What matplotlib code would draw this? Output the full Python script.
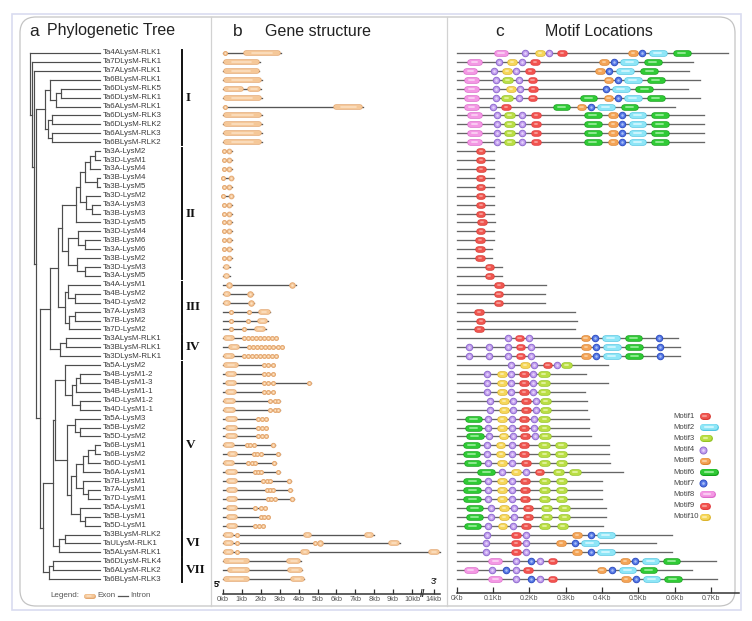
import matplotlib
matplotlib.use("Agg")
import matplotlib.pyplot as plt
from matplotlib.patches import FancyBboxPatch

plt.rcParams['font.family'] = ['Liberation Sans', 'DejaVu Sans']

# ---------------- data ----------------
# tree: newick with internal node depths (horizontal position of each split)
clade_I = ("((Ta6BLysM-RLK1,((Ta6DLysM-RLK5,Ta6DLysM-RLK1)61,Ta6ALysM-RLK1)56)50,"
           "((Ta6DLysM-RLK3,Ta6DLysM-RLK2)52,(Ta6ALysM-RLK3,Ta6BLysM-RLK2)52)48)45")
clade_II = ("((((((Ta3A-LysM2,Ta3D-LysM1)95,Ta3A-LysM4)90,(Ta3B-LysM4,Ta3B-LysM5)97)85,"
            "(Ta3D-LysM2,(Ta3A-LysM3,Ta3B-LysM3)92)86)80,Ta3D-LysM5)76,"
            "((Ta3D-LysM4,(Ta3B-LysM6,Ta3A-LysM6)85)78,(Ta3B-LysM2,(Ta3D-LysM3,Ta3A-LysM5)85)77)68)62")
clade_III = "((Ta4A-LysM1,(Ta4B-LysM2,Ta4D-LysM2)75)68,((Ta7A-LysM3,Ta7B-LysM2)75,Ta7D-LysM2)69)65"
clade_IV = "((Ta3ALysM-RLK1,Ta3BLysM-RLK1)66,Ta3DLysM-RLK1)60"
clade_V = ("((Ta5A-LysM2,(((Ta4B-LysM1-2,Ta4B-LysM1-3)80,Ta4B-LysM1-1)76,(Ta4D-LysM1-2,Ta4D-LysM1-1)80)72)65,"
           "((Ta5A-LysM3,(Ta5B-LysM2,Ta5D-LysM2)80)75,"
           "(((((Ta6B-LysM1,Ta6B-LysM2)95,Ta6D-LysM1)88,Ta6A-LysM1)83,(Ta7B-LysM1,(Ta7A-LysM1,Ta7D-LysM1)88)83)76,"
           "(Ta5A-LysM1,(Ta5B-LysM1,Ta5D-LysM1)85)80)71)67)55")
clade_VI = "((Ta3BLysM-RLK2,TaULysM-RLK1)65,Ta5ALysM-RLK1)59"
clade_VII = "((Ta6DLysM-RLK4,Ta6ALysM-RLK2)53,Ta6BLysM-RLK3)49"
tree_newick = ("(Ta4ALysM-RLK1,(Ta7DLysM-RLK1,(Ta7ALysM-RLK1,(" + clade_I + ",("
               "((" + clade_II + "," + clade_III + ")58," + clade_IV + ")50,"
               "((" + clade_V + "," + clade_VI + ")53," + clade_VII + ")43)40)36)34)32)30")

clade_names = ["I", "II", "III", "IV", "V", "VI", "VII"]
clade_rows = [(0, 10), (11, 25), (26, 31), (32, 34), (35, 53), (54, 56), (57, 59)]

# gene structure: exons (start kb, end kb) per gene, in tree order
exons = [
    [(0.05, 0.2), (1.07, 3.07)],
    [(0, 1.96)],
    [(0, 1.92)],
    [(0, 2.05)],
    [(0, 1.1), (1.27, 2.02)],
    [(0, 2.05)],
    [(0.05, 0.2), (5.84, 7.42)],
    [(0, 2.07)],
    [(0, 2.07)],
    [(0, 2.07)],
    [(0, 2.07)],
    [(0, 0.1), (0.2, 0.45)],
    [(0, 0.1), (0.2, 0.45)],
    [(0, 0.1), (0.2, 0.45)],
    [(0, 0.05), (0.3, 0.55)],
    [(0, 0.1), (0.2, 0.45)],
    [(0, 0.05), (0.3, 0.55)],
    [(0, 0.1), (0.2, 0.45)],
    [(0, 0.1), (0.2, 0.45)],
    [(0, 0.1), (0.2, 0.45)],
    [(0, 0.1), (0.2, 0.45)],
    [(0, 0.1), (0.2, 0.45)],
    [(0, 0.1), (0.2, 0.45)],
    [(0, 0.1), (0.2, 0.45)],
    [(0, 0.38)],
    [(0, 0.38)],
    [(0.15, 0.5), (3.5, 3.85)],
    [(0, 0.4), (1.3, 1.6)],
    [(0, 0.4), (1.3, 1.65)],
    [(0.3, 0.5), (1.3, 1.45), (1.85, 2.5)],
    [(0.3, 0.5), (1.25, 1.4), (1.8, 2.38)],
    [(0.3, 0.5), (1.05, 1.2), (1.64, 2.26)],
    [(0, 0.6), (1.04, 1.2), (1.25, 1.41), (1.46, 1.62), (1.67, 1.83), (1.88, 2.04),
     (2.09, 2.25), (2.3, 2.46), (2.51, 2.67), (2.72, 2.88)],
    [(0.3, 0.9), (1.27, 1.43), (1.49, 1.65), (1.71, 1.87), (1.93, 2.09), (2.15, 2.31),
     (2.37, 2.53), (2.59, 2.75), (2.81, 2.97), (3.02, 3.18)],
    [(0, 0.6), (1.04, 1.2), (1.25, 1.41), (1.46, 1.62), (1.67, 1.83), (1.88, 2.04),
     (2.09, 2.25), (2.3, 2.46), (2.51, 2.67), (2.72, 2.88)],
    [(0, 0.82), (2.1, 2.25), (2.33, 2.48), (2.56, 2.71)],
    [(0.1, 0.72), (2.1, 2.25), (2.33, 2.48), (2.56, 2.71)],
    [(0.1, 0.72), (2.1, 2.25), (2.33, 2.48), (2.56, 2.71), (4.5, 4.65)],
    [(0.1, 0.72), (2.1, 2.25), (2.33, 2.48), (2.56, 2.71)],
    [(0, 0.7), (2.42, 2.57), (2.65, 2.8), (2.86, 3.01)],
    [(0, 0.7), (2.42, 2.57), (2.65, 2.8), (2.86, 3.01)],
    [(0.1, 0.8), (1.8, 1.94), (1.98, 2.12), (2.19, 2.33)],
    [(0.1, 0.8), (1.8, 1.94), (1.98, 2.12), (2.19, 2.33)],
    [(0.1, 0.8), (1.8, 1.94), (1.98, 2.12), (2.19, 2.33)],
    [(0, 0.62), (1.22, 1.35), (1.38, 1.5), (1.57, 1.7), (2.52, 2.75)],
    [(0.2, 0.8), (1.57, 1.7), (1.74, 1.87), (1.92, 2.05), (2.79, 3.0)],
    [(0, 0.62), (1.28, 1.41), (1.46, 1.59), (1.64, 1.77), (2.58, 2.8)],
    [(0.1, 0.8), (1.64, 1.77), (1.8, 1.93), (1.96, 2.09), (2.79, 3.0)],
    [(0.15, 0.8), (2.07, 2.2), (2.24, 2.37), (2.42, 2.55), (3.37, 3.6)],
    [(0.15, 0.8), (2.24, 2.37), (2.42, 2.55), (2.6, 2.73), (3.45, 3.65)],
    [(0.15, 0.8), (2.3, 2.43), (2.48, 2.61), (2.66, 2.79), (3.55, 3.78)],
    [(0.15, 0.8), (1.64, 1.77), (1.92, 2.05), (2.14, 2.27)],
    [(0.15, 0.8), (1.92, 2.05), (2.1, 2.23), (2.3, 2.43)],
    [(0.15, 0.8), (1.64, 1.77), (1.84, 1.97), (2.04, 2.17)],
    [(0, 0.55), (0.68, 0.76), (4.25, 4.7), (7.45, 8.0)],
    [(0, 0.55), (0.68, 0.76), (4.83, 4.91), (5.0, 5.3), (8.75, 9.35)],
    [(0, 0.55), (0.68, 0.76), (4.1, 4.6), (13.7, 14.3)],
    [(0, 1.4), (3.37, 4.13)],
    [(0.2, 1.43), (3.42, 4.2)],
    [(0, 1.4), (3.55, 4.3)],
]
kb_ticks = [0, 1, 2, 3, 4, 5, 6, 7, 8, 9, 10, 14]
kb_break = 10.6      # axis is cut between 10kb and 14kb
kb_cut = 2.84        # amount of the axis removed by the cut

# motif locations: protein length (Kb on the axis) and (motif, centre) per gene
protein_len = [0.748, 0.652, 0.641, 0.67, 0.638, 0.67, 0.601, 0.68, 0.68, 0.68, 0.68,
               0.102, 0.102, 0.102, 0.102, 0.102, 0.102, 0.102, 0.102, 0.106, 0.102, 0.102,
               0.098, 0.098, 0.124, 0.124, 0.246, 0.243, 0.243, 0.326, 0.332, 0.327,
               0.611, 0.615, 0.615, 0.416, 0.355, 0.416, 0.354, 0.358, 0.358,
               0.365, 0.365, 0.369, 0.42, 0.42, 0.422, 0.459, 0.4, 0.4, 0.4,
               0.41, 0.41, 0.404, 0.592, 0.548, 0.592, 0.713, 0.647, 0.716]
rlk_a = [(8, .049), (4, .112), (3, .145), (4, .179), (9, .218), (6, .375), (5, .43), (7, .456), (2, .498), (6, .56)]
lysm_v = [(6, .043), (4, .087), (10, .124), (4, .153), (1, .188), (3, .242), (3, .289)]
motif_hits = [
    [(8, .122), (4, .188), (10, .229), (4, .253), (9, .29), (5, .485), (7, .511), (2, .554), (6, .62)],
    [(8, .049), (4, .116), (10, .152), (4, .179), (9, .216), (5, .406), (7, .432), (2, .475), (6, .54)],
    [(8, .037), (4, .102), (10, .139), (4, .164), (9, .202), (5, .395), (7, .42), (2, .464), (6, .53)],
    [(8, .041), (4, .107), (3, .14), (4, .172), (9, .209), (5, .418), (7, .444), (2, .485), (6, .549)],
    [(8, .041), (4, .107), (10, .149), (4, .175), (9, .211), (7, .411), (2, .452), (6, .516)],
    [(8, .041), (4, .107), (3, .138), (4, .172), (9, .209), (6, .363), (5, .418), (7, .444), (2, .485), (6, .549)],
    [(8, .041), (4, .099), (9, .136), (6, .289), (5, .344), (7, .37), (2, .411), (6, .476)],
    rlk_a, rlk_a, rlk_a, rlk_a,
    [(1, .066)], [(1, .066)], [(1, .067)], [(1, .066)], [(1, .066)], [(1, .066)], [(1, .066)],
    [(1, .066)], [(1, .069)], [(1, .066)], [(1, .064)], [(1, .064)], [(1, .064)],
    [(1, .09)], [(1, .09)],
    [(1, .117)], [(1, .115)], [(1, .115)],
    [(1, .062)], [(1, .066)], [(1, .062)],
    [(4, .14), (9, .173), (4, .2), (5, .355), (7, .381), (2, .425), (6, .487), (7, .558)],
    [(4, .034), (4, .089), (4, .142), (9, .176), (4, .204), (5, .356), (7, .384), (2, .427), (6, .489), (7, .56)],
    [(4, .034), (4, .089), (4, .142), (9, .176), (4, .204), (5, .356), (7, .384), (2, .427), (6, .489), (7, .56)],
    [(4, .15), (10, .188), (4, .214), (1, .25), (4, .276), (3, .303)],
    [(4, .084), (10, .124), (4, .15), (1, .185), (4, .211), (3, .24)],
    [(4, .084), (10, .124), (4, .15), (1, .185), (4, .211), (3, .24)],
    [(4, .084), (10, .124), (4, .15), (1, .185), (4, .211), (3, .24)],
    [(4, .092), (10, .13), (4, .156), (1, .191), (4, .218), (3, .245)],
    [(4, .092), (10, .13), (4, .156), (1, .191), (4, .218), (3, .245)],
    [(6, .046), (4, .085), (10, .124), (4, .152), (1, .185), (4, .214), (3, .241)],
    [(6, .046), (4, .085), (10, .124), (4, .152), (1, .185), (4, .214), (3, .241)],
    [(6, .05), (4, .09), (10, .129), (4, .156), (1, .188), (4, .216), (3, .243)],
    [(6, .041), (4, .084), (10, .121), (4, .152), (1, .186), (3, .241), (3, .287)],
    [(6, .041), (4, .084), (10, .121), (4, .152), (1, .186), (3, .241), (3, .287)],
    [(6, .044), (4, .087), (10, .124), (4, .153), (1, .19), (3, .242), (3, .289)],
    [(6, .081), (4, .126), (10, .163), (4, .19), (1, .228), (3, .28), (3, .326)],
    lysm_v, lysm_v, lysm_v,
    [(6, .049), (4, .094), (10, .131), (4, .159), (1, .196), (3, .248), (3, .296)],
    [(6, .049), (4, .094), (10, .131), (4, .159), (1, .196), (3, .248), (3, .296)],
    [(6, .044), (4, .087), (10, .126), (4, .154), (1, .19), (3, .242), (3, .291)],
    [(4, .083), (9, .163), (4, .191), (5, .331), (7, .37), (2, .411)],
    [(4, .081), (9, .163), (4, .191), (5, .287), (7, .326), (2, .367)],
    [(4, .081), (9, .163), (4, .191), (5, .331), (7, .37), (2, .411)],
    [(8, .106), (4, .163), (7, .204), (4, .23), (9, .264), (5, .464), (7, .491), (2, .534), (6, .592)],
    [(8, .039), (4, .098), (7, .136), (4, .163), (9, .197), (5, .399), (7, .429), (2, .471), (6, .528)],
    [(8, .106), (4, .163), (7, .204), (4, .23), (9, .264), (5, .466), (7, .494), (2, .537), (6, .595)],
]
motif_width = {1: .028, 2: .05, 3: .033, 4: .019, 5: .028, 6: .05, 7: .022, 8: .041, 9: .028, 10: .028}
# (edge, face, highlight)
motif_cols = {
    1: ('#d83a34', '#ef5650', '#f8a29c'),
    2: ('#52c6e2', '#8ee6f7', '#d8f8ff'),
    3: ('#93c424', '#bade45', '#e6f6a6'),
    4: ('#8f6ccf', '#c29eee', '#e6d6fb'),
    5: ('#dc8430', '#f4a457', '#fbd2a4'),
    6: ('#15a01b', '#2fca35', '#9eef9f'),
    7: ('#2f4ec2', '#5679e6', '#abbff6'),
    8: ('#dc6acb', '#f498e4', '#fbd5f4'),
    9: ('#e23c40', '#f2534f', '#f9a5a0'),
    10: ('#dcb42c', '#f6d75a', '#fcefb2'),
}
exon_cols = ('#e4a872', '#f5c899', '#fde4c8')
motif_ticks = [0, 0.1, 0.2, 0.3, 0.4, 0.5, 0.6, 0.7]

# ---------------- layout ----------------
W, H = 752, 621
ROW0, ROWH = 53.0, 8.917          # pixel y of first gene row, row spacing
fig = plt.figure(figsize=(W / 100, H / 100), dpi=100)


def row_of(ypx):
    return (ypx - ROW0) / ROWH


def px_axes(x0, x1, y0, y1):
    ax = fig.add_axes([x0 / W, 1 - y1 / H, (x1 - x0) / W, (y1 - y0) / H])
    ax.set_ylim(row_of(y1), row_of(y0))
    ax.patch.set_alpha(0)
    return ax


def pill(ax, x0, x1, y, h, cols, z=3, minw=4.0):
    edge, face, hi = cols
    a0 = ax.transData.transform((x0, y))[0]
    a1 = ax.transData.transform((x1, y))[0]
    wpx = a1 - a0
    per = (x1 - x0) / wpx
    if wpx <= h * 1.3:
        d = min(h, max(wpx, minw))
        xc = (x0 + x1) / 2
        ax.plot([xc], [y], 'o', ms=d * 0.72, mfc=face, mec=edge, mew=0.7, zorder=z)
        ax.plot([xc], [y], 'o', ms=d * 0.72 * 0.38, mfc=hi, mec='none', zorder=z + 0.1)
        return
    r = h / 2 * per
    a, b = x0 + r, x1 - r
    ax.plot([a, b], [y, y], color=edge, lw=h * 0.72, solid_capstyle='round', zorder=z)
    ax.plot([a, b], [y, y], color=face, lw=(h - 1.4) * 0.72, solid_capstyle='round', zorder=z + 0.1)
    m = (b - a) * 0.2
    ax.plot([a + m, b - m], [y, y], color=hi, lw=h * 0.3 * 0.72, solid_capstyle='round',
            alpha=0.85, zorder=z + 0.2)


# frames
bg = fig.add_axes([0, 0, 1, 1])
bg.set_xlim(0, W)
bg.set_ylim(H, 0)
bg.axis('off')
bg.add_patch(plt.Rectangle((12, 14), 729, 596, fill=False, ec='#d9dcf0', lw=1.2))
bg.add_patch(FancyBboxPatch((20, 17), 715, 589, boxstyle='round,pad=0,rounding_size=16',
                            fc='white', ec='#c4c4c4', lw=0.9))
bg.plot([211, 211], [17, 606], color='#d2d2d2', lw=0.9)
bg.plot([447, 447], [17, 606], color='#d2d2d2', lw=0.9)


def ftext(x, y, s, **kw):
    fig.text(x / W, 1 - y / H, s, **kw)


ftext(29, 35.5, 'a', fontsize=12.5, color='#222')
ftext(47, 35.5, 'Phylogenetic Tree', fontsize=11.5, color='#222')
ftext(233, 35.5, 'b', fontsize=12.5, color='#222')
ftext(265, 35.5, 'Gene structure', fontsize=11.5, color='#222')
ftext(495, 35.5, 'c', fontsize=12.5, color='#222')
ftext(545, 35.5, 'Motif Locations', fontsize=11.5, color='#222')

# ---------------- a: tree ----------------
axt = px_axes(20, 211, 40, 612)
axt.set_xlim(20, 211)
axt.axis('off')


def parse(s):
    pos = 0

    def node():
        nonlocal pos
        if s[pos] == '(':
            pos += 1
            kids = [node()]
            while s[pos] == ',':
                pos += 1
                kids.append(node())
            pos += 1
            j = pos
            while pos < len(s) and s[pos] not in ',()':
                pos += 1
            return (float(s[j:pos]), kids)
        j = pos
        while s[pos] not in ',()':
            pos += 1
        return s[j:pos]

    return node()


LEAF_X = 100
leaves = []
tcol = '#4d4d4d'


def draw(nd, px):
    if isinstance(nd, str):
        y = len(leaves)
        leaves.append(nd)
        axt.plot([px, LEAF_X], [y, y], color=tcol, lw=0.85)
        return y
    x, kids = nd
    ys = [draw(k, x) for k in kids]
    axt.plot([x, x], [ys[0], ys[-1]], color=tcol, lw=0.85)
    y = (ys[0] + ys[-1]) / 2
    if px is not None:
        axt.plot([px, x], [y, y], color=tcol, lw=0.85)
    return y


draw(parse(tree_newick), None)
for i, name in enumerate(leaves):
    axt.text(LEAF_X + 2.5, i, name, fontsize=5.7, color='#3c3c3c', va='center', ha='left')

for name, (s, e) in zip(clade_names, clade_rows):
    axt.plot([182, 182], [s - 0.36, e + 0.36], color='#111', lw=1.4)
    axt.text(186, (s + e) / 2, name, fontsize=9.5, fontweight='bold', va='center', ha='left',
             family=['Liberation Serif', 'DejaVu Serif'], color='#111')

ly = row_of(595.5)
axt.text(50, ly, 'Legend:', fontsize=5.8, color='#555', va='center')
pill(axt, 83, 95, ly, 5, exon_cols)
axt.text(97, ly, 'Exon', fontsize=5.8, color='#555', va='center')
axt.plot([118, 128], [ly, ly], color='#555', lw=0.9)
axt.text(130, ly, 'Intron', fontsize=5.8, color='#555', va='center')

# ---------------- b: gene structure ----------------
KB0, KBPX = 223.0, 18.9
axg = px_axes(211, 447, 40, 612)
axg.set_xlim((211 - KB0) / KBPX, (447 - KB0) / KBPX)


def bx(kb):
    return kb if kb < kb_break else kb - kb_cut


for i, ex in enumerate(exons):
    end = bx(max(e for _, e in ex))
    axg.plot([0, end], [i, i], color='#555', lw=0.95, zorder=2)
    for s, e in ex:
        pill(axg, bx(s), bx(e), i, 5.5, exon_cols)

axis_row = row_of(594)
for sp in ['top', 'left', 'right']:
    axg.spines[sp].set_visible(False)
axg.spines['bottom'].set_position(('data', axis_row))
axg.spines['bottom'].set_bounds(0, bx(14.3))
axg.spines['bottom'].set_color('#333')
axg.spines['bottom'].set_linewidth(1.1)
axg.set_yticks([])
axg.set_xticks([bx(t) for t in kb_ticks])
axg.set_xticklabels([f'{t}kb' for t in kb_ticks])
axg.tick_params(axis='x', direction='in', length=3.5, width=0.9, color='#333',
                labelsize=5.3, labelcolor='#555', pad=1.5)
axg.text(kb_break - 0.05, axis_row, '//', fontsize=7, ha='center', va='center',
         color='#333', fontweight='bold')
axg.text(-0.28, axis_row - 0.55, "5'", fontsize=6.5, fontweight='bold', ha='center', va='bottom')
axg.text(bx(14), axis_row - 0.9, "3'", fontsize=6.5, ha='center', va='bottom')

# ---------------- c: motif locations ----------------
K0, KPX = 456.7, 363.0
axm = px_axes(447, 735, 40, 612)
axm.set_xlim((447 - K0) / KPX, (735 - K0) / KPX)

for i, (ln, hits) in enumerate(zip(protein_len, motif_hits)):
    axm.plot([0, ln], [i, i], color='#666', lw=0.95, zorder=2)
    for m, c in hits:
        w = motif_width[m]
        pill(axm, c - w / 2, c + w / 2, i, 6.5, motif_cols[m], minw=6.5)

m_axis = row_of(593)
for sp in ['top', 'left', 'right']:
    axm.spines[sp].set_visible(False)
axm.spines['bottom'].set_position(('data', m_axis))
axm.spines['bottom'].set_bounds(0, max(protein_len) + 0.03)
axm.spines['bottom'].set_color('#333')
axm.spines['bottom'].set_linewidth(1.1)
axm.set_yticks([])
axm.set_xticks(motif_ticks)
axm.set_xticklabels([f'{t:g}Kb' for t in motif_ticks])
axm.tick_params(axis='x', direction='in', length=4, width=0.9, color='#333',
                labelsize=5.0, labelcolor='#555', pad=1.5)

# motif legend
lx_text = (673 - K0) / KPX
lx_sw = (699 - K0) / KPX
for k in range(1, 11):
    yy = row_of(416 + (k - 1) * 11.2)
    axm.text(lx_text, yy, f'Motif{k}', fontsize=5.6, color='#444', va='center', ha='left')
    pill(axm, lx_sw, lx_sw + motif_width[k] * 1.1, yy, 7, motif_cols[k], minw=7)

fig.savefig('out.png', dpi=100)
